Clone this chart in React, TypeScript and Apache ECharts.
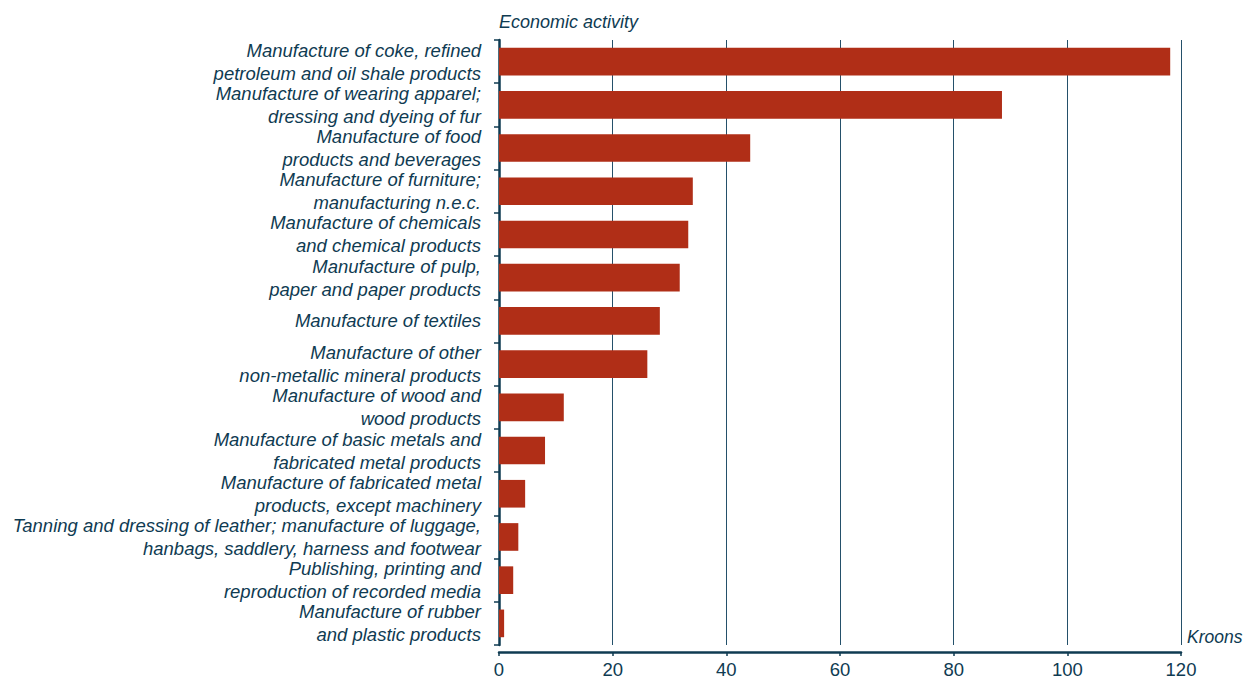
import React, { useEffect, useRef } from "react";
import * as echarts from "echarts";

const categories = [
  "Manufacture of coke, refined\npetroleum and oil shale products",
  "Manufacture of wearing apparel;\ndressing and dyeing of fur",
  "Manufacture of food\nproducts and beverages",
  "Manufacture of furniture;\nmanufacturing n.e.c.",
  "Manufacture of chemicals\nand chemical products",
  "Manufacture of pulp,\npaper and paper products",
  "Manufacture of textiles",
  "Manufacture of other\nnon-metallic mineral products",
  "Manufacture of wood and\nwood products",
  "Manufacture of basic metals and\nfabricated metal products",
  "Manufacture of fabricated metal\nproducts, except machinery",
  "Tanning and dressing of leather; manufacture of luggage,\nhanbags, saddlery, harness and footwear",
  "Publishing, printing and\nreproduction of recorded media",
  "Manufacture of rubber\nand plastic products",
];

const values = [118.1, 88.5, 44.2, 34.1, 33.3, 31.8, 28.3, 26.1, 11.4, 8.1, 4.6, 3.4, 2.5, 0.9];

const xTicks = { min: 0, max: 120, interval: 20 };

const TEXT = "#0f3b52";
const BAR = "#b02e17";
const FONT = "Liberation Sans, Arial, sans-serif";

export default function App() {
  const ref = useRef<HTMLDivElement>(null);
  useEffect(() => {
    if (!ref.current) return;
    const chart = echarts.init(ref.current, undefined, { renderer: "svg" });
    chart.setOption({
      animation: false,
      backgroundColor: "#ffffff",
      grid: { left: 499, right: 65, top: 40, bottom: 35, containLabel: false },
      title: {
        text: "Economic activity",
        left: 499,
        top: 13,
        padding: 0,
        textStyle: { color: TEXT, fontSize: 18, fontStyle: "italic", fontWeight: "normal", fontFamily: FONT },
      },
      graphic: [
        {
          type: "text",
          left: 1187,
          top: 628,
          style: { text: "Kroons", fill: TEXT, fontSize: 17.5, fontStyle: "italic", fontFamily: FONT },
        },
      ],
      xAxis: {
        type: "value",
        min: xTicks.min,
        max: xTicks.max,
        interval: xTicks.interval,
        offset: 7,
        axisLine: { show: true, lineStyle: { color: TEXT, width: 2.5 } },
        axisTick: { show: true, length: 4, lineStyle: { color: TEXT, width: 1.5 } },
        axisLabel: { color: TEXT, fontSize: 18.5, fontFamily: FONT, margin: 8 },
        splitLine: { show: true, lineStyle: { color: "#24506a", width: 1 } },
      },
      yAxis: {
        type: "category",
        data: categories,
        inverse: true,
        offset: 7,
        axisLine: { show: true, lineStyle: { color: TEXT, width: 2.5 } },
        axisTick: { show: true, length: 5, inside: false, lineStyle: { color: TEXT, width: 1.5 } },
        axisLabel: {
          color: TEXT,
          fontSize: 18.5,
          fontStyle: "italic",
          fontFamily: FONT,
          lineHeight: 23,
          margin: 11,
          interval: 0,
          align: "right",
          padding: [0, 0, 4, 0],
        },
        splitLine: { show: false },
      },
      series: [
        {
          type: "bar",
          data: values,
          barWidth: "64%",
          itemStyle: { color: BAR },
        },
      ],
    });
    return () => chart.dispose();
  }, []);
  return (
    <div
      ref={ref}
      style={{ position: "absolute", left: 0, top: 0, width: 1246, height: 680 }}
    />
  );
}
